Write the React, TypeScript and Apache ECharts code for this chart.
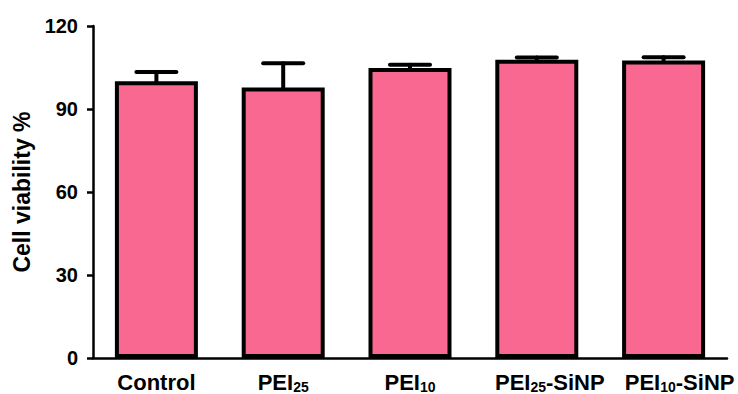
import React, { useEffect, useRef } from "react";
import * as echarts from "echarts";

const categories = ["Control", "PEI25", "PEI10", "PEI25-SiNP", "PEI10-SiNP"];
const viability = [100, 97.8, 104.8, 107.8, 107.5];
const errorSD = [3.4, 8.7, 1.2, 0.8, 1.2];
const yTicks = { min: 0, max: 120, interval: 30 };
const yAxisTitle = "Cell viability %";

const FONT = "'Liberation Sans', Arial, Helvetica, sans-serif";
const PINK = "#F86891";

function formatLabel(name: string): string {
  const m = name.match(/^PEI(\d+)(.*)$/);
  if (!m) return `{m|${name}}`;
  const rest = m[2] ? `{m|${m[2]}}` : "";
  const pad = m[2] ? (m[1] === "25" ? "{sp1| }" : "{sp2| }") : "";
  return `${pad}{m|PEI}{s|${m[1]}}${rest}`;
}

export default function App() {
  const ref = useRef<HTMLDivElement>(null);
  useEffect(() => {
    if (!ref.current) return;
    const chart = echarts.init(ref.current, null, { renderer: "svg" });
    const errData = categories.map((_, i) => [i, viability[i], viability[i] + errorSD[i]]);
    chart.setOption({
      animation: false,
      backgroundColor: "#ffffff",
      grid: { left: 93, right: 11, top: 26, bottom: 36, containLabel: false, outerBoundsMode: "none" },
      xAxis: {
        type: "category",
        data: categories,
        axisLine: { lineStyle: { color: "#000", width: 2.5 } },
        axisTick: { alignWithLabel: true, length: 6, lineStyle: { color: "#000", width: 2.5 } },
        axisLabel: {
          interval: 0,
          margin: 13,
          formatter: (v: string) => formatLabel(v),
          rich: {
            m: { fontFamily: FONT, fontWeight: "bold", fontSize: 22, color: "#000", lineHeight: 20, verticalAlign: "top" },
            s: { fontFamily: FONT, fontWeight: "bold", fontSize: 14, color: "#000", lineHeight: 12, verticalAlign: "top", padding: [9, 0, 0, 0] },
            sp1: { width: 26, fontSize: 10, lineHeight: 20, verticalAlign: "top" },
            sp2: { width: 32, fontSize: 10, lineHeight: 20, verticalAlign: "top" },
          },
        },
      },
      yAxis: {
        type: "value",
        min: yTicks.min,
        max: yTicks.max,
        interval: yTicks.interval,
        name: yAxisTitle,
        nameLocation: "middle",
        nameRotate: 90,
        nameGap: 58,
        nameTextStyle: { fontFamily: FONT, fontWeight: "bold", fontSize: 23, color: "#000" },
        splitLine: { show: false },
        axisLine: { show: true, lineStyle: { color: "#000", width: 2.5 } },
        axisTick: { show: true, length: 6, lineStyle: { color: "#000", width: 2.5 } },
        axisLabel: { margin: 15, fontFamily: FONT, fontWeight: "bold", fontSize: 20, color: "#000" },
      },
      series: [
        {
          type: "custom",
          z: 1,
          data: errData,
          renderItem: (params: any, api: any) => {
            const base = api.coord([api.value(0), api.value(1)]);
            const top = api.coord([api.value(0), api.value(2)]);
            const style = { stroke: "#000", lineWidth: 4, lineCap: "round" };
            return {
              type: "group",
              children: [
                { type: "line", shape: { x1: base[0], y1: base[1], x2: top[0], y2: top[1] }, style },
                { type: "line", shape: { x1: top[0] - 20, y1: top[1], x2: top[0] + 20, y2: top[1] }, style },
              ],
            };
          },
        },
        {
          type: "bar",
          z: 2,
          data: viability,
          barWidth: 83,
          itemStyle: { color: PINK, borderColor: "#000", borderWidth: 4 },
        },
      ],
    });
    return () => chart.dispose();
  }, []);
  return <div ref={ref} style={{ position: "fixed", left: 0, top: 0, width: 738, height: 394 }} />;
}
